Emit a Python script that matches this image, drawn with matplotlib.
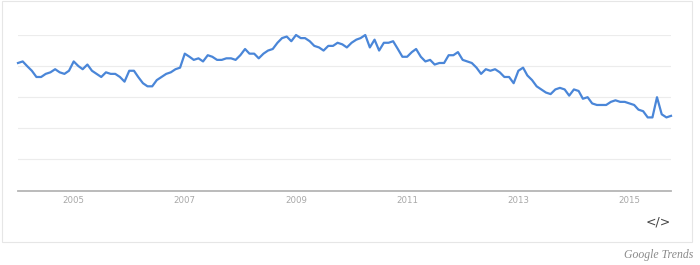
import matplotlib
matplotlib.use("Agg")
import matplotlib.pyplot as plt
import pandas as pd
from matplotlib.patches import Rectangle

# Monthly interest, Jan 2004 .. Oct 2015 (Google Trends scale 0-100)
values = [
    82, 83, 80, 77, 73, 73, 75, 76, 78, 76, 75, 77,
    83, 80, 78, 81, 77, 75, 73, 76, 75, 75, 73, 70,
    77, 77, 73, 69, 67, 67, 71, 73, 75, 76, 78, 79,
    88, 86, 84, 85, 83, 87, 86, 84, 84, 85, 85, 84,
    87, 91, 88, 88, 85, 88, 90, 91, 95, 98, 99, 96,
    100, 98, 98, 96, 93, 92, 90, 93, 93, 95, 94, 92,
    95, 97, 98, 100, 92, 97, 90, 95, 95, 96, 91, 86,
    86, 89, 91, 86, 83, 84, 81, 82, 82, 87, 87, 89,
    84, 83, 82, 79, 75, 78, 77, 78, 76, 73, 73, 69,
    77, 79, 74, 71, 67, 65, 63, 62, 65, 66, 65, 61,
    65, 64, 59, 60, 56, 55, 55, 55, 57, 58, 57, 57,
    56, 55, 52, 51, 47, 47, 60, 49, 47, 48,
]
start_month = "2004-01-01"
tick_years = [2005, 2007, 2009, 2011, 2013, 2015]
y_grid = [20, 40, 60, 80, 100]

dates = pd.date_range(start_month, periods=len(values), freq="MS")

W, H = 700, 265
fig = plt.figure(figsize=(W / 100, H / 100), dpi=100)
fig.patch.set_facecolor("white")

# card border
fig.patches.append(Rectangle((1.5 / W, 1 - 242 / H), 690.5 / W, 241 / H,
                             transform=fig.transFigure, fill=False,
                             edgecolor="#e6e6e6", linewidth=0.8))

left, right = 18 / W, 671 / W
bottom, top = 1 - 190.5 / H, 1 - 35 / H
ax = fig.add_axes([left, bottom, right - left, top - bottom])
ax.plot(dates, values, color="#4a86d8", linewidth=1.6, clip_on=False,
        solid_joinstyle="round", zorder=3)
ax.set_xlim(dates[0], dates[-1])
ax.set_ylim(0, 100)

for v in y_grid:
    ax.axhline(v, color="#ececec", linewidth=0.8, zorder=1)

for s in ["top", "right", "left"]:
    ax.spines[s].set_visible(False)
ax.spines["bottom"].set_color("#b5b5b5")
ax.spines["bottom"].set_linewidth(1.3)
ax.set_yticks([])
ax.set_xticks([pd.Timestamp(f"{y}-01-01") for y in tick_years])
ax.set_xticklabels([str(y) for y in tick_years])
ax.tick_params(axis="x", length=0, pad=4, labelsize=6.2, labelcolor="#a8a8a8")

fig.text(658 / W, 1 - 222 / H, "</>", ha="center", va="center",
         fontsize=9, color="#444444")
fig.text(693 / W, 1 - 255 / H, "Google Trends", ha="right", va="center",
         fontsize=8.5, color="#8a8a8a", style="italic",
         family="Liberation Serif")

fig.savefig("out.png", dpi=100, facecolor="white")
